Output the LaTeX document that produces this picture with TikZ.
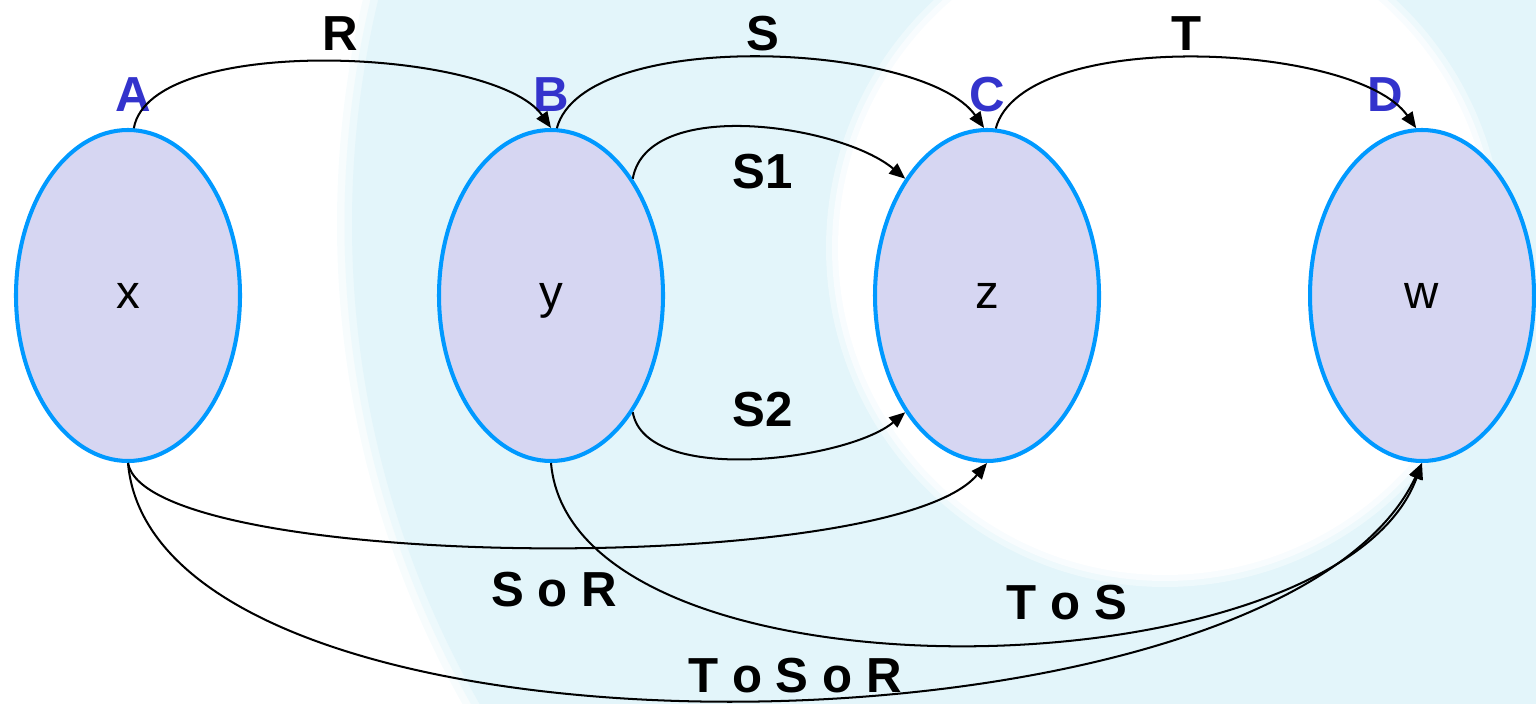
\documentclass[tikz,border=0pt]{standalone}
\usepackage{fontspec}
\setmainfont{Liberation Sans}
\usepackage{tikz}
\usetikzlibrary{shapes.geometric,arrows.meta,positioning}
\definecolor{bgcyan}{HTML}{E3F5FA}
\definecolor{setfill}{HTML}{D6D6F2}
\definecolor{setline}{HTML}{0099FF}
\definecolor{settag}{HTML}{3333CC}

\begin{document}
\begin{tikzpicture}[>={Triangle[length=0.32cm,width=0.26cm]},
    set/.style={ellipse,draw=setline,line width=2.3pt,fill=setfill,minimum width=4.48cm,
      minimum height=6.62cm,inner sep=0pt,text depth=0pt,font=\fontsize{27}{30}\selectfont},
    tag/.style={text=settag,inner sep=0pt,font=\fontsize{28}{30}\selectfont\bfseries},
    rel/.style={inner sep=0pt,font=\fontsize{28}{30}\selectfont\bfseries},
    map/.style={->,line width=1.15pt}]
    \useasboundingbox (0,0) rectangle (30.72,14.06);
    % background rings (soft edges)
    \begin{scope}
      \clip (0,0) rectangle (30.72,14.06);
      \fill[bgcyan!30] (26.34,9.58) circle (19.6);
      \fill[bgcyan!65] (26.34,9.58) circle (19.45);
      \fill[bgcyan] (26.34,9.58) circle (19.3);
      \fill[white!40!bgcyan] (23.30,9.10) circle (6.78);
      \fill[white!75!bgcyan] (23.30,9.10) circle (6.66);
      \fill[white] (23.30,9.10) circle (6.54);
    \end{scope}
    % the four sets
    \foreach \n/\t/\px in {X/x/2.56,Y/y/11.02,Z/z/19.74,W/w/28.44}
      \node[set] (\n) at (\px,8.15) {\t};
    % set names
    \node[tag,above=0.32cm of X.north,xshift=0.1cm] (tA) {A};
    \node[tag,above=0.32cm of Y.north] (tB) {B};
    \node[tag,above=0.32cm of Z.north] (tC) {C};
    \node[tag,above=0.32cm of W.north,xshift=-0.74cm] (tD) {D};
    % single relations
    \draw[map] (X.88) .. controls +(80:1.95) and +(125:1.95) .. (Y.north);
    \draw[map] (Y.88) .. controls +(75:2.1) and +(125:2.1) .. (Z.91);
    \draw[map] (Z.87) .. controls +(75:2.1) and +(125:2.1) .. (W.92);
    \draw[map] (Y.55) .. controls +(80:1.68) and +(140:1.68) .. (Z.125);
    \draw[map] (Y.-55) .. controls +(-80:1.5) and +(220:1.5) .. (Z.235);
    % compositions
    \draw[map] (X.south) .. controls +(-80:2.2) and +(230:3) .. (Z.south);
    \draw[map] (Y.south) .. controls +(-85:5) and +(250:5) .. (W.south);
    \draw[map] (X.south) .. controls +(-85:6.5) and +(245:6.8) .. (W.south);
    % labels
    \node[rel] (lR) at (6.80,13.38) {R};
    \node[rel] (lS) at (15.26,13.38) {S};
    \node[rel] (lT) at (23.74,13.38) {T};
    \node[rel] (lS1) at (15.26,10.62) {S1};
    \node[rel] (lS2) at (15.26,5.86) {S2};
    \node[rel] (lSR) at (11.08,2.26) {S o R};
    \node[rel] (lTS) at (21.34,2.00) {T o S};
    \node[rel] (lTSR) at (15.90,0.55) {T o S o R};
  \end{tikzpicture}
\end{document}
